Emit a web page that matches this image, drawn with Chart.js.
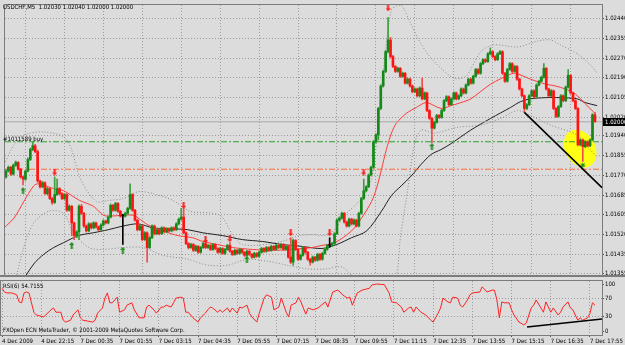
<!DOCTYPE html>
<html>
<head>
<meta charset="utf-8">
<script src="https://cdn.jsdelivr.net/npm/chart.js@4.4.0/dist/chart.umd.min.js"></script>
<style>
  html, body { margin: 0; padding: 0; background: #dcdcdc; }
  #wrap { position: relative; width: 625px; height: 345px; overflow: hidden; }
  #priceChart { position: absolute; left: 0; top: 0; }
  #rsiChart { position: absolute; left: 0; top: 280px; }
</style>
</head>
<body>
<div id="wrap">
  <canvas id="priceChart" width="625" height="280"></canvas>
  <canvas id="rsiChart" width="625" height="65"></canvas>
</div>
<script>
// ---- data (bar index 0 = first 5-minute bar shown) ----
const symbolTitle = 'USDCHF,M5';
const orderLabel = '#1011589 buy';
const rsiTitle = 'RSI(6) 54.7155';
const copyright = 'FXOpen ECN MetaTrader, \u00a9 2001-2009 MetaQuotes Software Corp.';

const xTickBars = [0, 16, 32, 48, 64, 80, 96, 112, 128, 144, 160, 176, 192, 208, 224, 240];
const xLabels = ['4 Dec 2009', '4 Dec 22:15', '7 Dec 00:35', '7 Dec 01:55', '7 Dec 03:15', '7 Dec 04:35',
  '7 Dec 05:55', '7 Dec 07:15', '7 Dec 08:35', '7 Dec 09:55', '7 Dec 11:15', '7 Dec 12:35',
  '7 Dec 13:55', '7 Dec 15:15', '7 Dec 16:35', '7 Dec 17:55'];
const priceTicks = [1.02440, 1.02355, 1.02270, 1.02190, 1.02105, 1.02020, 1.01940, 1.01855,
  1.01770, 1.01685, 1.01605, 1.01520, 1.01435, 1.01355];
const rsiTicks = [0, 30, 70, 100];

const opens = [
  1.01765,1.01790,1.01806,1.01777,1.01815,1.01827,1.01798,1.01765,1.01756,1.01790,
  1.01840,1.01882,1.01898,1.01873,1.01748,1.01723,1.01740,1.01694,1.01715,1.01673,
  1.01656,1.01690,1.01715,1.01694,1.01673,1.01690,1.01623,1.01640,1.01569,1.01515,
  1.01531,1.01640,1.01610,1.01556,1.01535,1.01565,1.01548,1.01569,1.01552,1.01540,
  1.01560,1.01577,1.01569,1.01594,1.01644,1.01623,1.01652,1.01619,1.01598,1.01598,
  1.01610,1.01631,1.01690,1.01623,1.01581,1.01540,1.01556,1.01498,1.01527,1.01464,
  1.01506,1.01556,1.01523,1.01540,1.01523,1.01548,1.01531,1.01544,1.01535,1.01548,
  1.01540,1.01565,1.01585,1.01594,1.01527,1.01481,1.01464,1.01477,1.01452,1.01469,
  1.01444,1.01464,1.01481,1.01464,1.01473,1.01456,1.01477,1.01460,1.01444,1.01460,
  1.01439,1.01456,1.01473,1.01448,1.01435,1.01452,1.01439,1.01456,1.01444,1.01431,
  1.01448,1.01435,1.01423,1.01439,1.01427,1.01444,1.01460,1.01448,1.01464,1.01452,
  1.01469,1.01456,1.01473,1.01464,1.01477,1.01456,1.01469,1.01423,1.01402,1.01494,
  1.01456,1.01414,1.01431,1.01464,1.01444,1.01414,1.01402,1.01423,1.01410,1.01435,
  1.01414,1.01439,1.01456,1.01473,1.01473,1.01481,1.01523,1.01581,1.01590,1.01610,
  1.01573,1.01556,1.01585,1.01565,1.01581,1.01556,1.01610,1.01673,1.01706,1.01723,
  1.01773,1.01806,1.01915,1.01944,1.02057,1.02153,1.02215,1.02299,1.02349,1.02278,
  1.02236,1.02215,1.02228,1.02194,1.02207,1.02165,1.02182,1.02153,1.02128,1.02140,
  1.02111,1.02144,1.02098,1.02123,1.02048,1.02015,1.01973,1.01998,1.02027,1.02019,
  1.02048,1.02090,1.02107,1.02073,1.02098,1.02123,1.02098,1.02111,1.02140,1.02123,
  1.02157,1.02182,1.02165,1.02194,1.02223,1.02207,1.02248,1.02265,1.02257,1.02290,
  1.02299,1.02278,1.02265,1.02290,1.02299,1.02207,1.02173,1.02223,1.02248,1.02215,
  1.02236,1.02182,1.02140,1.02111,1.02057,1.02073,1.02111,1.02132,1.02107,1.02157,
  1.02173,1.02190,1.02228,1.02140,1.02111,1.02132,1.02057,1.02023,1.02065,1.02111,
  1.02090,1.02148,1.02198,1.02123,1.02090,1.02057,1.01902,1.01923,1.01894,1.01915,
  1.01898,1.01923,1.02030
];
const highs = [
  1.01798,1.01812,1.01810,1.01820,1.01833,1.01830,1.01802,1.01769,1.01794,1.01846,
  1.01888,1.01915,1.01904,1.01880,1.01752,1.01746,1.01744,1.01720,1.01719,1.01677,
  1.01765,1.01756,1.01720,1.01698,1.01695,1.01694,1.01646,1.01644,1.01573,1.01536,
  1.01646,1.01648,1.01614,1.01560,1.01570,1.01569,1.01574,1.01573,1.01556,1.01565,
  1.01582,1.01581,1.01599,1.01650,1.01648,1.01657,1.01656,1.01623,1.01606,1.01615,
  1.01636,1.01736,1.01694,1.01627,1.01585,1.01561,1.01560,1.01532,1.01531,1.01511,
  1.01561,1.01560,1.01545,1.01544,1.01553,1.01552,1.01549,1.01548,1.01553,1.01552,
  1.01570,1.01590,1.01631,1.01631,1.01531,1.01485,1.01482,1.01481,1.01474,1.01473,
  1.01469,1.01486,1.01490,1.01478,1.01477,1.01482,1.01481,1.01464,1.01465,1.01464,
  1.01461,1.01478,1.01485,1.01452,1.01457,1.01456,1.01461,1.01460,1.01448,1.01453,
  1.01452,1.01439,1.01444,1.01443,1.01449,1.01465,1.01464,1.01469,1.01468,1.01474,
  1.01473,1.01478,1.01477,1.01482,1.01481,1.01474,1.01474,1.01506,1.01500,1.01498,
  1.01460,1.01436,1.01469,1.01468,1.01448,1.01418,1.01428,1.01427,1.01440,1.01439,
  1.01444,1.01461,1.01478,1.01506,1.01486,1.01528,1.01586,1.01595,1.01615,1.01614,
  1.01577,1.01590,1.01589,1.01586,1.01585,1.01615,1.01678,1.01756,1.01728,1.01778,
  1.01811,1.01920,1.01950,1.02062,1.02158,1.02220,1.02305,1.02444,1.02360,1.02283,
  1.02240,1.02233,1.02232,1.02212,1.02211,1.02187,1.02186,1.02157,1.02145,1.02144,
  1.02149,1.02186,1.02128,1.02127,1.02052,1.02019,1.02003,1.02032,1.02031,1.02053,
  1.02095,1.02112,1.02111,1.02103,1.02128,1.02127,1.02116,1.02145,1.02144,1.02162,
  1.02187,1.02186,1.02199,1.02228,1.02227,1.02253,1.02270,1.02269,1.02295,1.02315,
  1.02303,1.02282,1.02295,1.02304,1.02303,1.02211,1.02228,1.02253,1.02252,1.02241,
  1.02240,1.02186,1.02144,1.02115,1.02078,1.02116,1.02137,1.02136,1.02162,1.02178,
  1.02195,1.02248,1.02232,1.02144,1.02137,1.02136,1.02061,1.02070,1.02116,1.02115,
  1.02153,1.02223,1.02202,1.02127,1.02094,1.02061,1.01928,1.01927,1.01920,1.01919,
  1.01928,1.02035,1.02040
];
const lows = [
  1.01760,1.01786,1.01772,1.01773,1.01810,1.01794,1.01760,1.01731,1.01750,1.01786,
  1.01835,1.01877,1.01868,1.01742,1.01717,1.01719,1.01690,1.01689,1.01668,1.01648,
  1.01652,1.01686,1.01689,1.01668,1.01669,1.01618,1.01619,1.01515,1.01498,1.01506,
  1.01498,1.01605,1.01550,1.01530,1.01531,1.01543,1.01544,1.01547,1.01535,1.01536,
  1.01556,1.01564,1.01565,1.01590,1.01618,1.01619,1.01614,1.01593,1.01477,1.01594,
  1.01606,1.01627,1.01618,1.01576,1.01535,1.01536,1.01493,1.01494,1.01402,1.01460,
  1.01502,1.01518,1.01519,1.01518,1.01519,1.01526,1.01527,1.01530,1.01531,1.01535,
  1.01536,1.01561,1.01581,1.01522,1.01476,1.01458,1.01460,1.01447,1.01448,1.01439,
  1.01440,1.01460,1.01459,1.01460,1.01451,1.01452,1.01455,1.01439,1.01440,1.01434,
  1.01435,1.01452,1.01443,1.01430,1.01431,1.01434,1.01435,1.01439,1.01426,1.01426,
  1.01430,1.01418,1.01419,1.01422,1.01423,1.01440,1.01443,1.01444,1.01447,1.01448,
  1.01451,1.01452,1.01459,1.01460,1.01451,1.01452,1.01418,1.01396,1.01389,1.01451,
  1.01409,1.01410,1.01427,1.01439,1.01409,1.01389,1.01398,1.01405,1.01406,1.01409,
  1.01410,1.01435,1.01452,1.01465,1.01468,1.01477,1.01519,1.01576,1.01586,1.01568,
  1.01551,1.01552,1.01560,1.01561,1.01551,1.01552,1.01606,1.01669,1.01702,1.01719,
  1.01769,1.01802,1.01911,1.01923,1.02052,1.02148,1.02210,1.02294,1.02272,1.02231,
  1.02210,1.02211,1.02189,1.02190,1.02160,1.02161,1.02148,1.02123,1.02124,1.02106,
  1.02107,1.02093,1.02094,1.02043,1.02010,1.01911,1.01969,1.01994,1.02014,1.02015,
  1.02044,1.02086,1.02068,1.02069,1.02094,1.02093,1.02094,1.02107,1.02118,1.02119,
  1.02153,1.02160,1.02161,1.02190,1.02202,1.02203,1.02244,1.02252,1.02253,1.02286,
  1.02273,1.02260,1.02261,1.02286,1.02202,1.02168,1.02169,1.02219,1.02210,1.02211,
  1.02177,1.02135,1.02106,1.02040,1.02052,1.02069,1.02107,1.02102,1.02103,1.02153,
  1.02169,1.02186,1.02135,1.02106,1.02107,1.02052,1.02018,1.02019,1.02061,1.02085,
  1.02086,1.02144,1.02118,1.02085,1.02052,1.01897,1.01898,1.01831,1.01890,1.01893,
  1.01894,1.01919,1.02000
];
const closes = [
  1.01790,1.01806,1.01777,1.01815,1.01827,1.01798,1.01765,1.01756,1.01790,1.01840,
  1.01882,1.01898,1.01873,1.01748,1.01723,1.01740,1.01694,1.01715,1.01673,1.01656,
  1.01690,1.01715,1.01694,1.01673,1.01690,1.01623,1.01640,1.01569,1.01515,1.01531,
  1.01640,1.01610,1.01556,1.01535,1.01565,1.01548,1.01569,1.01552,1.01540,1.01560,
  1.01577,1.01569,1.01594,1.01644,1.01623,1.01652,1.01619,1.01598,1.01598,1.01610,
  1.01631,1.01690,1.01623,1.01581,1.01540,1.01556,1.01498,1.01527,1.01464,1.01506,
  1.01556,1.01523,1.01540,1.01523,1.01548,1.01531,1.01544,1.01535,1.01548,1.01540,
  1.01565,1.01585,1.01594,1.01527,1.01481,1.01464,1.01477,1.01452,1.01469,1.01444,
  1.01464,1.01481,1.01464,1.01473,1.01456,1.01477,1.01460,1.01444,1.01460,1.01439,
  1.01456,1.01473,1.01448,1.01435,1.01452,1.01439,1.01456,1.01444,1.01431,1.01448,
  1.01435,1.01423,1.01439,1.01427,1.01444,1.01460,1.01448,1.01464,1.01452,1.01469,
  1.01456,1.01473,1.01464,1.01477,1.01456,1.01469,1.01423,1.01402,1.01494,1.01456,
  1.01414,1.01431,1.01464,1.01444,1.01414,1.01402,1.01423,1.01410,1.01435,1.01414,
  1.01439,1.01456,1.01473,1.01473,1.01481,1.01523,1.01581,1.01590,1.01610,1.01573,
  1.01556,1.01585,1.01565,1.01581,1.01556,1.01610,1.01673,1.01706,1.01723,1.01773,
  1.01806,1.01915,1.01944,1.02057,1.02153,1.02215,1.02299,1.02349,1.02278,1.02236,
  1.02215,1.02228,1.02194,1.02207,1.02165,1.02182,1.02153,1.02128,1.02140,1.02111,
  1.02144,1.02098,1.02123,1.02048,1.02015,1.01973,1.01998,1.02027,1.02019,1.02048,
  1.02090,1.02107,1.02073,1.02098,1.02123,1.02098,1.02111,1.02140,1.02123,1.02157,
  1.02182,1.02165,1.02194,1.02223,1.02207,1.02248,1.02265,1.02257,1.02290,1.02299,
  1.02278,1.02265,1.02290,1.02299,1.02207,1.02173,1.02223,1.02248,1.02215,1.02236,
  1.02182,1.02140,1.02111,1.02057,1.02073,1.02111,1.02132,1.02107,1.02157,1.02173,
  1.02190,1.02228,1.02140,1.02111,1.02132,1.02057,1.02023,1.02065,1.02111,1.02090,
  1.02148,1.02198,1.02123,1.02090,1.02057,1.01902,1.01923,1.01894,1.01915,1.01898,
  1.01923,1.02030,1.02000
];

// moving averages / bands, read at selected bars
const redBars = [-0.8,3.3,7.3,11.4,13.5,19.6,23.7,30.2,35.9,40,42.9,48.2,52.2,54.3,58.4,64.5,70.6,76.7,80.8,86.9,
  93.1,101.2,109.4,117.6,125.7,129.8,135.1,142,146.1,150.2,152.2,154.3,156.3,158.4,160.4,164.5,168.6,172.7,178.8,
  182.9,186.9,191,199.2,207.3,209.4,215.5,221.6,225.7,229.8,233.9,238,242];
const redMa = [1.01548,1.01590,1.01660,1.01727,1.01736,1.01715,1.01706,1.01665,1.01640,1.01602,1.01598,1.01602,
  1.01602,1.01590,1.01560,1.01535,1.01515,1.01506,1.01490,1.01477,1.01464,1.01456,1.01452,1.01456,1.01464,1.01473,
  1.01485,1.01535,1.01590,1.01660,1.01715,1.01798,1.01882,1.01952,1.01994,1.02036,1.02061,1.02082,1.02057,1.02069,
  1.02082,1.02098,1.02161,1.02203,1.02207,1.02182,1.02161,1.02153,1.02140,1.02119,1.02077,1.02036];

const blackBars = [5.3,11.4,15.5,19.6,23.7,29.8,35.9,42,48.2,54.3,60.4,68.6,74.7,80.8,89,97.1,105.3,113.5,121.6,
  129.8,135.9,142,148.2,154.3,158.4,162.4,166.5,170.6,174.7,178.8,182.9,186.9,191,199.2,207.3,211.4,215.5,221.6,
  227.8,234.7,238,242.9];
const blackMa = [1.01298,1.01394,1.01435,1.01464,1.01485,1.01515,1.01527,1.01540,1.01556,1.01565,1.01548,1.01544,
  1.01540,1.01527,1.01515,1.01498,1.01490,1.01477,1.01469,1.01460,1.01477,1.01506,1.01535,1.01619,1.01686,1.01727,
  1.01769,1.01819,1.01861,1.01882,1.01907,1.01936,1.01965,1.02015,1.02061,1.02086,1.02098,1.02103,1.02103,1.02098,
  1.02082,1.02069];

const upperBars = [-0.8,3.3,7.3,15.5,23.7,26.9,30.6,37.1,42,48.2,54.3,60.4,68.6,75.5,87.8,93.1,97.1,106.5,114.7,
  120.4,125.7,132.7,140,146.1,150.2,153.5,155.9,158.4,160.4,162.4,166.5,169.4,173.5,178.8,184.1,189,195.1,200.4,
  210.2,218.4,223.7,227.8,234.7,240,242.9];
const upperBand = [1.01819,1.01902,1.01944,1.01957,1.01936,1.01882,1.01756,1.01660,1.01665,1.01673,1.01702,1.01694,
  1.01665,1.01619,1.01602,1.01519,1.01477,1.01477,1.01494,1.01515,1.01519,1.01519,1.01610,1.01673,1.01756,1.02048,
  1.02299,1.02478,1.02494,1.02499,1.02415,1.02353,1.02286,1.02228,1.02186,1.02194,1.02299,1.02328,1.02319,1.02344,
  1.02349,1.02328,1.02290,1.02244,1.02207];

const lowerBars = [3.3,7.3,11.4,17.6,23.7,27.8,33.9,40,48.2,56.3,64.5,74.7,82.9,91,99.2,107.3,115.5,123.7,131.8,
  138,144.1,148.2,158.4,162.4,165.3,167.8,170.6,175.9,185.7,195.1,203.3,210.2,215.5,223.7,234.7,240,242.9];
const lowerBand = [1.01298,1.01464,1.01569,1.01619,1.01610,1.01527,1.01464,1.01456,1.01464,1.01464,1.01431,1.01414,
  1.01389,1.01389,1.01414,1.01406,1.01389,1.01373,1.01373,1.01381,1.01319,1.01256,1.01256,1.01535,1.01727,1.01902,
  1.01965,1.01952,1.01977,1.01986,1.02015,1.02048,1.02027,1.01986,1.01944,1.01882,1.01848];

// signals and objects drawn on the chart
const buyBars = [7, 27, 48, 99, 175];
const buyPrices = [1.01706, 1.01473, 1.01452, 1.01414, 1.01894];
const sellBars = [20, 73, 82, 92, 117, 133, 147, 157];
const sellPrices = [1.01786, 1.01644, 1.01498, 1.01502, 1.01527, 1.01527, 1.01786, 1.02486];
const starBars = [237];
const starPrices = [1.01815];
const orderPrice = 1.01915;
const stopPrice = 1.01798;
const lastPrice = 1.02000;
const trendBars = [213, 244.9];
const trendPrices = [1.02040, 1.01719];
const markBar = 235.9;
const markPrice = 1.01886;

const rsiBars = [
  0,1,2,4,6,7,8,9,10,11, 13,14,17,20,21,22,24,25,26,28, 29,31,32,33,35,37,38,39,41,42,
  43,44,45,47,48,50,51,53,54,56, 58,59,60,62,63,65,66,67,69,70, 71,73,74,75,76,78,80,81,83,84,
  85,86,88,89,90,92,93,94,96,97, 98,100,101,102,104,105,107,108,110,111, 113,114,116,117,118,120,121,122,124,125,
  127,129,132,133,135,137,138,139,141,142, 143,145,147,150,151,153,155,156,158,159, 161,163,164,166,167,168,169,171,173,175,
  176,178,179,180,182,183,184,186,187,188, 190,191,192,195,196,198,200,201,202,203, 204,205,207,208,209,211,213,214,216,217,
  218,220,221,222,224,225,227,228,229,231, 232,233,235,236,237,239,240,241,242];
const rsiValues = [
  91,83,81,81,77,62,60,81,83,81, 40,34,30,45,49,40,40,23,19,23, 34,45,28,23,21,19,23,38,49,70,
  81,60,60,72,40,45,55,60,45,28, 28,51,55,45,38,51,51,55,51,60, 70,72,70,40,40,28,19,28,38,45,
  51,49,40,45,40,49,40,49,38,51, 49,55,38,30,19,38,70,77,72,45, 51,70,40,30,55,60,72,62,36,49,
  45,49,62,51,83,87,83,77,70,72, 55,81,87,91,98,100,99,99,81,62, 60,51,40,49,51,40,51,40,34,23,
  19,38,49,70,62,60,72,70,55,51, 66,77,81,83,94,83,87,87,66,28, 62,60,60,45,34,19,13,17,49,55,
  66,49,40,62,40,49,34,40,51,62, 49,45,23,28,23,28,38,60,55];
const rsiTrendBars = [214.3, 244.9];
const rsiTrendValues = [8.5, 25.5];

// ---- view ----
const X_MIN = -0.41, X_MAX = 244.9;
const Y_MIN = 1.01347, Y_MAX = 1.02498;
const RSI_MIN = -8.5, RSI_MAX = 106.4;
const FONT = "'Liberation Sans Narrow', 'DejaVu Sans Condensed', 'Liberation Sans', sans-serif";
const FONT_SIZE = 6;
const GRID = '#9c9c9c';
const FRAME = '#7c7c7c';

Chart.defaults.font.family = FONT;
Chart.defaults.font.size = FONT_SIZE;
Chart.defaults.color = '#000';

const pts = (xs, ys) => xs.map((x, i) => ({ x, y: ys[i] }));
const bodyColor = (o, c) => c > o ? '#14891a' : (c < o ? '#ff1212' : '#000000');
const wickColor = (o, c) => c > o ? '#3c9f3c' : (c < o ? '#f24b4b' : '#000000');

const makeArrow = (color, up) => {
  const c = document.createElement('canvas');
  c.width = 5; c.height = 7;
  const g = c.getContext('2d');
  g.fillStyle = color;
  g.beginPath();
  if (up) {
    g.moveTo(2.5, 0); g.lineTo(5, 3); g.lineTo(3.5, 3); g.lineTo(3.5, 7);
    g.lineTo(1.5, 7); g.lineTo(1.5, 3); g.lineTo(0, 3);
  } else {
    g.moveTo(2.5, 7); g.lineTo(5, 4); g.lineTo(3.5, 4); g.lineTo(3.5, 0);
    g.lineTo(1.5, 0); g.lineTo(1.5, 4); g.lineTo(0, 4);
  }
  g.closePath();
  g.fill();
  return c;
};

const xAxis = (showLabels) => ({
  type: 'linear', min: X_MIN, max: X_MAX, offset: false,
  afterBuildTicks: s => { s.ticks = xTickBars.map(v => ({ value: v })); },
  afterFit: s => {
    s.height = showLabels ? 10 : 0;
    s.paddingLeft = 0; s.paddingRight = 0;
  },
  ticks: {
    display: showLabels, autoSkip: false, maxRotation: 0, align: 'start', padding: 1,
    callback: v => xLabels[xTickBars.indexOf(v)] || ''
  },
  grid: { color: GRID, drawTicks: showLabels, tickLength: 2, tickColor: '#555', tickBorderDash: [] },
  border: { display: false, dash: [1, 2] }
});

const hline = (price, color, dash, width) => ({
  type: 'line', data: pts([X_MIN, X_MAX], [price, price]),
  borderColor: color, borderWidth: width, borderDash: dash, pointRadius: 0, order: 4
});

const priceOverlay = {
  id: 'priceOverlay',
  beforeDatasetsDraw(chart) {
    const { ctx, scales: { x, y } } = chart;
    ctx.save();
    ctx.beginPath();
    ctx.ellipse(x.getPixelForValue(markBar), y.getPixelForValue(markPrice), 20, 15, Math.PI / 3, 0, Math.PI * 2);
    ctx.fillStyle = '#ffff14';
    ctx.fill();
    ctx.restore();
  },
  afterDraw(chart) {
    const { ctx, chartArea: a, scales: { y } } = chart;
    ctx.save();
    ctx.strokeStyle = FRAME;
    ctx.lineWidth = 1;
    ctx.strokeRect(a.left - 0.5, a.top - 0.5, a.right - a.left + 1, a.bottom - a.top + 1);
    ctx.fillStyle = FRAME;
    ctx.fillRect(0, a.bottom, chart.width, 2);

    ctx.font = `${FONT_SIZE}px ${FONT}`;
    ctx.textBaseline = 'middle';
    ctx.fillStyle = '#000';
    const n = closes.length - 1;
    const head = [opens[n], highs[n], lows[n], closes[n]].map(v => v.toFixed(5)).join(' ');
    ctx.fillText(`${symbolTitle}  ${head}`, 3, 7);
    ctx.fillText(orderLabel, 3, 139);

    const py = Math.round(y.getPixelForValue(lastPrice));
    ctx.fillStyle = '#000';
    ctx.fillRect(603, py - 4, 22, 8);
    ctx.fillStyle = '#fff';
    ctx.fillText(lastPrice.toFixed(5), 605, py);
    ctx.restore();
  }
};

const rsiOverlay = {
  id: 'rsiOverlay',
  afterDraw(chart) {
    const { ctx, chartArea: a } = chart;
    ctx.save();
    ctx.strokeStyle = FRAME;
    ctx.lineWidth = 1;
    ctx.strokeRect(a.left - 0.5, a.top - 0.5, a.right - a.left + 1, a.bottom - a.top + 1);
    ctx.font = `${FONT_SIZE}px ${FONT}`;
    ctx.textBaseline = 'middle';
    ctx.fillStyle = '#000';
    ctx.fillText(rsiTitle, 3, 6);
    ctx.fillText(copyright, 3, 50);
    ctx.restore();
  }
};

const upArrow = makeArrow('#178a17', true);
const downArrow = makeArrow('#ff1a1a', false);

new Chart(document.getElementById('priceChart'), {
  type: 'bar',
  data: {
    datasets: [
      {
        data: lows.map((l, i) => ({ x: i, y: [l, highs[i]] })),
        backgroundColor: opens.map((o, i) => wickColor(o, closes[i])),
        barThickness: 1, grouped: false, order: 2
      },
      {
        data: opens.map((o, i) => ({ x: i, y: [o, closes[i]] })),
        backgroundColor: opens.map((o, i) => bodyColor(o, closes[i])),
        barThickness: 2, minBarLength: 1, grouped: false, order: 1
      },
      { type: 'line', data: pts(upperBars, upperBand), borderColor: '#8a8a8a', borderWidth: 1,
        borderDash: [1, 2], pointRadius: 0, tension: 0.3, order: 7 },
      { type: 'line', data: pts(lowerBars, lowerBand), borderColor: '#8a8a8a', borderWidth: 1,
        borderDash: [1, 2], pointRadius: 0, tension: 0.3, order: 7 },
      { type: 'line', data: pts(blackBars, blackMa), borderColor: '#202020', borderWidth: 1,
        pointRadius: 0, tension: 0.3, order: 6 },
      { type: 'line', data: pts(redBars, redMa), borderColor: '#ff3a3a', borderWidth: 1,
        pointRadius: 0, tension: 0.3, order: 5 },
      hline(lastPrice, '#a8a8a8', [], 1),
      hline(orderPrice, '#2fa02f', [6, 2, 2, 2], 1),
      hline(stopPrice, '#ff6a3a', [6, 2, 2, 2], 1),
      { type: 'line', data: pts(trendBars, trendPrices), borderColor: '#000', borderWidth: 1.6,
        pointRadius: 0, order: 0 },
      { type: 'line', data: pts(buyBars, buyPrices), showLine: false, pointStyle: upArrow, order: 0 },
      { type: 'line', data: pts(sellBars, sellPrices), showLine: false, pointStyle: downArrow, order: 0 },
      { type: 'line', data: pts(starBars, starPrices), showLine: false, pointStyle: 'star',
        pointRadius: 2.5, borderColor: '#178a17', borderWidth: 1, order: 0 }
    ]
  },
  options: {
    responsive: false, animation: false, events: [],
    layout: { padding: { left: 1, top: 2, right: 0, bottom: 2 } },
    plugins: { legend: { display: false }, tooltip: { enabled: false } },
    scales: {
      x: xAxis(false),
      y: {
        position: 'right', min: Y_MIN, max: Y_MAX,
        afterBuildTicks: s => { s.ticks = priceTicks.map(v => ({ value: v })); },
        afterFit: s => { s.width = 23; s.paddingTop = 0; s.paddingBottom = 0; },
        ticks: { autoSkip: false, padding: 1, callback: v => v.toFixed(5) },
        grid: { color: GRID, tickLength: 2, tickColor: '#555', tickBorderDash: [] },
        border: { display: false, dash: [1, 2] }
      }
    }
  },
  plugins: [priceOverlay]
});

new Chart(document.getElementById('rsiChart'), {
  type: 'line',
  data: {
    datasets: [
      { data: pts(rsiTrendBars, rsiTrendValues), borderColor: '#000', borderWidth: 1.6, pointRadius: 0, order: 0 },
      { data: pts(rsiBars, rsiValues), borderColor: '#ff2020', borderWidth: 1, pointRadius: 0, order: 1 }
    ]
  },
  options: {
    responsive: false, animation: false, events: [],
    layout: { padding: { left: 1, top: 1, right: 0, bottom: 0 } },
    plugins: { legend: { display: false }, tooltip: { enabled: false } },
    scales: {
      x: xAxis(true),
      y: {
        position: 'right', min: RSI_MIN, max: RSI_MAX,
        afterBuildTicks: s => { s.ticks = rsiTicks.map(v => ({ value: v })); },
        afterFit: s => { s.width = 23; s.paddingTop = 0; s.paddingBottom = 0; },
        ticks: { autoSkip: false, padding: 1 },
        grid: {
          color: c => (c.tick && (c.tick.value === 30 || c.tick.value === 70)) ? GRID : 'rgba(0,0,0,0)',
          tickLength: 2, tickColor: '#555', tickBorderDash: []
        },
        border: { display: false, dash: [1, 2] }
      }
    }
  },
  plugins: [rsiOverlay]
});
</script>
</body>
</html>
